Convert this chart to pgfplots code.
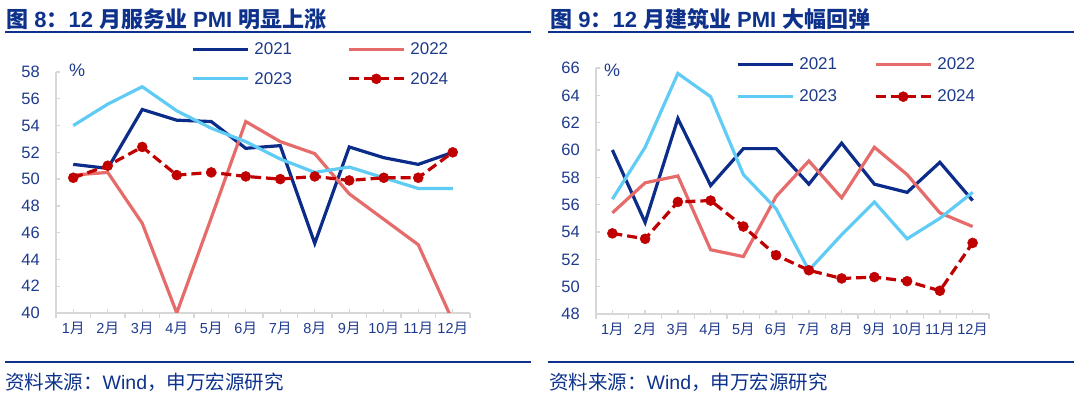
\documentclass[border=0pt]{standalone}
\usepackage{fontspec}
\setmainfont{Liberation Sans}
\newfontfamily\cjk{Noto Sans CJK SC}
\usepackage{pgfplots}
\pgfplotsset{compat=1.18}
\definecolor{c21}{RGB}{12,44,138}
\definecolor{c22}{RGB}{230,108,108}
\definecolor{c23}{RGB}{96,204,245}
\definecolor{c24}{RGB}{192,0,0}
\definecolor{axgray}{RGB}{215,215,215}
\definecolor{tblue}{RGB}{30,58,140}
\definecolor{navy}{RGB}{14,50,140}
\newcommand\C[1]{{\cjk #1}}
\newcommand\yue{{\cjk 月}}

\pgfplotsset{
 pmi/.style={
  scale only axis, anchor=south west,
  clip mode=individual,
  xmin=0.5, xmax=12.5,
  axis x line*=bottom, axis y line*=left,
  axis line style={draw=axgray, line width=1.3pt, -},
  xtick={1,...,12},
  xticklabels={1\yue,2\yue,3\yue,4\yue,5\yue,6\yue,7\yue,8\yue,9\yue,10\yue,11\yue,12\yue},
  x tick label style={font=\fontsize{14.5}{15}\selectfont, text=tblue, inner sep=0pt, yshift=-9pt},
  y tick label style={font=\fontsize{16.5}{17}\selectfont, text=tblue, inner sep=0pt, xshift=-16pt},
  /pgf/number format/assume math mode=true,
  tick align=inside, major tick length=4pt,
  tick style={draw=axgray, line width=1.3pt},
  extra x ticks={0.5,1.5,...,12.5}, extra x tick labels={},
  extra x tick style={tick align=outside, major tick length=5pt},
  legend columns=2,
  legend cell align=left,
  legend image code/.code={\draw[mark repeat=2,mark phase=2,##1] plot coordinates {(0pt,0pt) (27.5pt,0pt) (55pt,0pt)};},
 },
 s21/.style={c21, line width=3.2pt, no markers},
 s22/.style={c22, line width=3.2pt, no markers},
 s23/.style={c23, line width=3.2pt, no markers},
 s24/.style={c24, line width=3.2pt, dash pattern=on 10pt off 5pt, mark=*, mark size=5pt, mark options={solid, fill=c24, draw=c24, line width=0.5pt}},
}

\begin{document}
\begin{tikzpicture}
\useasboundingbox (0pt,0pt) rectangle (1080pt,395pt);

% ---- left: services PMI
\begin{axis}[pmi, at={(56pt,82pt)}, width=414pt, height=241pt,
  ymin=40, ymax=58, ytick={40,42,...,58},
  legend style={at={(0.326,1.122)}, anchor=north west, draw=none, fill=none,
    font=\fontsize{17}{17}\selectfont, text=tblue, inner sep=0pt, row sep=16pt,
    nodes={inner sep=0pt},
    /tikz/every odd column/.append style={column sep=5pt},
    /tikz/every even column/.append style={column sep=55pt}}]
\addplot[s21] coordinates {(1,51.1)(2,50.8)(3,55.2)(4,54.4)(5,54.3)(6,52.3)(7,52.5)(8,45.2)(9,52.4)(10,51.6)(11,51.1)(12,52.0)};
\addplot[s22] coordinates {(1,50.3)(2,50.5)(3,46.7)(4,40.0)(5,47.1)(6,54.3)(7,52.8)(8,51.9)(9,48.9)(10,47.0)(11,45.1)(12,39.4)};
\addplot[s23] coordinates {(1,54.0)(2,55.6)(3,56.9)(4,55.1)(5,53.8)(6,52.8)(7,51.5)(8,50.5)(9,50.9)(10,50.1)(11,49.3)(12,49.3)};
\addplot[s24] coordinates {(1,50.1)(2,51.0)(3,52.4)(4,50.3)(5,50.5)(6,50.2)(7,50.0)(8,50.2)(9,49.9)(10,50.1)(11,50.1)(12,52.0)};
\legend{2021,2022,2023,2024}
\node[text=tblue, font=\fontsize{18}{18}\selectfont, inner sep=0pt] at (rel axis cs:0.051,1.008) {\%};
\end{axis}

% ---- right: construction PMI
\begin{axis}[pmi, at={(596pt,81pt)}, width=393pt, height=246pt,
  ymin=48, ymax=66, ytick={48,50,...,66},
  legend style={at={(0.356,1.043)}, anchor=north west, draw=none, fill=none,
    font=\fontsize{17}{17}\selectfont, text=tblue, inner sep=0pt, row sep=19pt,
    nodes={inner sep=0pt},
    /tikz/every odd column/.append style={column sep=5pt},
    /tikz/every even column/.append style={column sep=37pt}}]
\addplot[s21] coordinates {(1,60.0)(2,54.7)(3,62.3)(4,57.4)(5,60.1)(6,60.1)(7,57.5)(8,60.5)(9,57.5)(10,56.9)(11,59.1)(12,56.3)};
\addplot[s22] coordinates {(1,55.4)(2,57.6)(3,58.1)(4,52.7)(5,52.2)(6,56.6)(7,59.2)(8,56.5)(9,60.2)(10,58.2)(11,55.4)(12,54.4)};
\addplot[s23] coordinates {(1,56.4)(2,60.2)(3,65.6)(4,63.9)(5,58.2)(6,55.7)(7,51.2)(8,53.8)(9,56.2)(10,53.5)(11,55.0)(12,56.9)};
\addplot[s24] coordinates {(1,53.9)(2,53.5)(3,56.2)(4,56.3)(5,54.4)(6,52.3)(7,51.2)(8,50.6)(9,50.7)(10,50.4)(11,49.7)(12,53.2)};
\legend{2021,2022,2023,2024}
\node[text=tblue, font=\fontsize{18}{18}\selectfont, inner sep=0pt] at (rel axis cs:0.041,0.992) {\%};
\end{axis}

% ---- titles, rules, sources
\node[anchor=west, inner sep=0pt, text=navy, font=\fontsize{22}{22}\selectfont\bfseries] at (6pt,376pt)
  {\C{图}\ 8\C{：}12\ \C{月服务业}\ PMI\ \C{明显上涨}};
\node[anchor=west, inner sep=0pt, text=navy, font=\fontsize{22}{22}\selectfont\bfseries] at (550pt,376pt)
  {\C{图}\ 9\C{：}12\ \C{月建筑业}\ PMI\ \C{大幅回弹}};
\draw[navy, line width=2.6pt] (5pt,363pt) -- (531pt,363pt);
\draw[navy, line width=2.6pt] (548pt,363pt) -- (1074pt,363pt);
\draw[navy, line width=2.6pt] (5pt,33pt) -- (531pt,33pt);
\draw[navy, line width=2.6pt] (548pt,33pt) -- (1074pt,33pt);
\node[anchor=west, inner sep=0pt, text=navy, font=\fontsize{19.5}{20}\selectfont] at (5pt,13pt)
  {\C{资料来源：}Wind\C{，申万宏源研究}};
\node[anchor=west, inner sep=0pt, text=navy, font=\fontsize{19.5}{20}\selectfont] at (549pt,13pt)
  {\C{资料来源：}Wind\C{，申万宏源研究}};
\end{tikzpicture}
\end{document}
